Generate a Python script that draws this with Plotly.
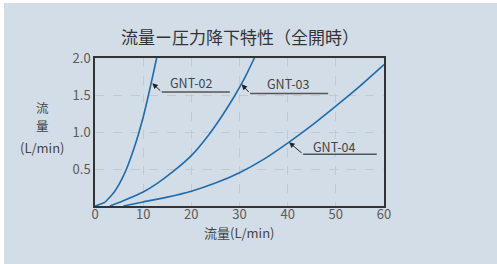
import plotly.graph_objects as go

# Data
flow_02 = [0, 2, 4, 6, 8, 10, 11, 12, 12.8]
press_02 = [0, 0.05, 0.19, 0.42, 0.76, 1.2, 1.47, 1.76, 2.0]

flow_03 = [3.1, 6, 10, 13, 16.3, 20, 23.6, 26.5, 29, 31, 33.1]
press_03 = [0, 0.075, 0.19, 0.31, 0.47, 0.68, 0.96, 1.23, 1.49, 1.72, 2.0]

flow_04 = [5.9, 10, 15, 20, 25, 30, 35, 40, 45, 50, 55, 60]
press_04 = [0, 0.055, 0.12, 0.2, 0.31, 0.45, 0.63, 0.85, 1.09, 1.35, 1.62, 1.91]

series_names = ["GNT-02", "GNT-03", "GNT-04"]
x_ticks = [0, 10, 20, 30, 40, 50, 60]
y_ticks = [0.5, 1.0, 1.5, 2.0]
y_tick_text = ["0.5", "1.0", "1.5", "2.0"]

# label leader geometry (tip on curve, elbow, end of horizontal line, text pos)
labels = [
    dict(name="GNT-02", tip=(11.9, 1.66), elbow=(13.85, 1.54), end=28.0, text=(19.9, 1.67)),
    dict(name="GNT-03", tip=(30.45, 1.645), elbow=(32.2, 1.52), end=48.4, text=(40.1, 1.66)),
    dict(name="GNT-04", tip=(40.3, 0.86), elbow=(43.2, 0.70), end=58.5, text=(49.6, 0.80)),
]

FONT = "Noto Sans CJK JP, Noto Sans, sans-serif"
LINE = "#1f6cad"

fig = go.Figure()
for fx, py, nm in [(flow_02, press_02, series_names[0]),
                   (flow_03, press_03, series_names[1]),
                   (flow_04, press_04, series_names[2])]:
    fig.add_trace(go.Scatter(x=fx, y=py, mode="lines", name=nm,
                             line=dict(color=LINE, width=1.6, shape="spline", smoothing=0.5),
                             showlegend=False, hoverinfo="skip"))

annotations = []
shapes = []
# background panel
shapes.append(dict(type="rect", xref="paper", yref="paper",
                   x0=-0.315, x1=1.40, y0=-0.40, y1=1.372,
                   fillcolor="#d3dde8", line=dict(width=0), layer="below"))

for lb in labels:
    annotations.append(dict(x=lb["tip"][0], y=lb["tip"][1], xref="x", yref="y",
                            ax=lb["elbow"][0], ay=lb["elbow"][1], axref="x", ayref="y",
                            text="", showarrow=True, arrowhead=2, arrowsize=1.1,
                            arrowwidth=1, arrowcolor="#222"))
    shapes.append(dict(type="line", xref="x", yref="y",
                       x0=lb["elbow"][0], y0=lb["elbow"][1], x1=lb["end"], y1=lb["elbow"][1],
                       line=dict(color="#555", width=1.6)))
    annotations.append(dict(x=lb["text"][0], y=lb["text"][1], xref="x", yref="y",
                            xanchor="center", yanchor="middle",
                            text=lb["name"], showarrow=False,
                            font=dict(family=FONT, size=12.5, color="#444")))

def paper_text(x, y, text, size, color="#444"):
    annotations.append(dict(x=x, y=y, xref="paper", yref="paper", text=text,
                            xanchor="center", yanchor="middle", showarrow=False,
                            font=dict(family=FONT, size=size, color=color)))

# title
paper_text(0.5, 1.145, "流量ー圧力降下特性（全開時）", 17, "#333")
# y axis title
paper_text(-0.182, 0.665, "流", 12.5)
paper_text(-0.182, 0.545, "量", 12.5)
paper_text(-0.182, 0.395, "(L/min)", 13)
# x axis title
paper_text(0.5, -0.18, "流量(L/min)", 13)

fig.update_layout(
    width=497, height=264,
    margin=dict(l=95, r=113, t=58, b=58),
    paper_bgcolor="white", plot_bgcolor="white",
    annotations=annotations, shapes=shapes,
    font=dict(family=FONT, size=13, color="#555"),
)
fig.update_xaxes(range=[0, 60], tickvals=x_ticks, showgrid=True, gridcolor="#c8c8c8",
                 griddash="dash", gridwidth=1, zeroline=False, showline=True, mirror=True,
                 linecolor="#333", linewidth=1.5, ticks="", fixedrange=True,
                 ticklabelstandoff=-4,
                 tickfont=dict(family=FONT, size=13, color="#5a5a5a"))
fig.update_yaxes(range=[0, 2], tickvals=y_ticks, ticktext=y_tick_text, showgrid=True,
                 gridcolor="#c8c8c8", griddash="dash", gridwidth=1, zeroline=False,
                 showline=True, mirror=True, linecolor="#333", linewidth=1.5, ticks="",
                 fixedrange=True, tickfont=dict(family=FONT, size=13, color="#5a5a5a"))

fig.write_html("out.html", config=dict(displayModeBar=False),
               post_script="document.body.style.margin='0px';")
